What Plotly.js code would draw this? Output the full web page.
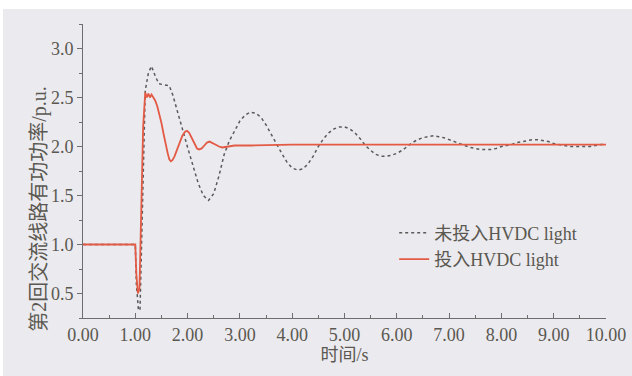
<!DOCTYPE html>
<html>
<head>
<meta charset="utf-8">
<script src="https://cdn.plot.ly/plotly-3.0.1.min.js"></script>
<style>
html,body{margin:0;padding:0;background:#ffffff;}
#chart{position:absolute;left:3px;top:9px;width:629px;height:367px;}
</style>
</head>
<body>
<div id="chart"></div>
<script>
// 未投入HVDC light (dashed)
const tNoHvdc = [0,1.0,1.02,1.06,1.09,1.12,1.15,1.19,1.25,1.31,1.38,1.45,1.55,1.65,1.72,1.80,1.90,2.00,2.10,2.20,2.30,2.40,2.50,2.60,2.70,2.80,2.90,3.00,3.10,3.20,3.30,3.40,3.50,3.60,3.70,3.80,3.90,4.00,4.10,4.20,4.30,4.40,4.50,4.60,4.70,4.80,4.90,5.00,5.10,5.20,5.30,5.40,5.50,5.60,5.70,5.80,5.90,6.00,6.10,6.20,6.30,6.40,6.50,6.60,6.70,6.80,6.90,7.00,7.10,7.20,7.30,7.40,7.50,7.60,7.70,7.80,7.90,8.00,8.10,8.20,8.30,8.40,8.50,8.60,8.70,8.80,8.90,9.00,9.10,9.20,9.30,9.40,9.50,9.60,9.70,9.80,9.90,10.00];
const vNoHvdc = [1.0,1.0,0.6,0.33,0.33,1.0,1.8,2.57,2.75,2.82,2.72,2.64,2.63,2.62,2.52,2.38,2.18,1.99,1.80,1.63,1.50,1.45,1.52,1.70,1.92,2.06,2.16,2.26,2.32,2.35,2.34,2.30,2.22,2.12,2.02,1.93,1.84,1.78,1.76,1.77,1.82,1.90,2.00,2.08,2.14,2.18,2.20,2.20,2.18,2.14,2.08,2.01,1.96,1.92,1.90,1.90,1.91,1.93,1.96,2.00,2.04,2.07,2.09,2.10,2.11,2.10,2.09,2.07,2.05,2.03,2.01,1.99,1.98,1.97,1.97,1.97,1.98,2.00,2.01,2.02,2.04,2.05,2.06,2.07,2.07,2.06,2.05,2.03,2.02,2.01,2.00,2.00,2.00,2.00,2.00,2.01,2.02,2.02];
// 投入HVDC light (solid red)
const tHvdc = [0,1.0,1.02,1.05,1.08,1.11,1.15,1.19,1.22,1.25,1.28,1.31,1.34,1.38,1.42,1.46,1.50,1.54,1.58,1.62,1.65,1.68,1.71,1.75,1.80,1.85,1.90,1.95,1.99,2.03,2.08,2.13,2.18,2.22,2.27,2.32,2.37,2.42,2.47,2.53,2.60,2.66,2.72,2.80,2.90,3.20,4.00,5.00,7.00,10.00];
const vHvdc = [1.0,1.0,0.7,0.5,0.55,1.3,2.2,2.55,2.50,2.54,2.50,2.53,2.50,2.47,2.41,2.33,2.24,2.13,2.02,1.93,1.87,1.85,1.86,1.90,1.97,2.05,2.11,2.15,2.16,2.14,2.09,2.03,1.98,1.97,1.98,2.01,2.04,2.05,2.04,2.02,2.00,1.99,1.995,2.005,2.01,2.01,2.02,2.02,2.02,2.02];

const xTickVals = [0,1,2,3,4,5,6,7,8,9,10];
const yTickVals = [0.5,1.0,1.5,2.0,2.5,3.0];
const seriesNames = ['未投入HVDC light','投入HVDC light'];
const xTitle = '时间/s';
const yTitle = '第2回交流线路有功功率/p.u.';

const FONT = '"Liberation Serif", "Noto Sans CJK SC"';
const TXT = '#5a5850';

const traces = [
  {x: tNoHvdc, y: vNoHvdc, name: seriesNames[0], mode: 'lines',
   line: {color: '#5a5a5a', width: 1.5, dash: '3px,3px', shape: 'linear'}},
  {x: tHvdc, y: vHvdc, name: seriesNames[1], mode: 'lines',
   line: {color: '#e35a45', width: 1.8, shape: 'linear'}}
];

const layout = {
  width: 629, height: 367,
  margin: {l: 80, r: 26, t: 15, b: 58},
  paper_bgcolor: '#ebeaef',
  plot_bgcolor: '#ebeaef',
  font: {family: FONT, color: TXT, size: 18},
  showlegend: true,
  legend: {x: 0.595, y: 0.352, xanchor: 'left', yanchor: 'top', bgcolor: 'rgba(0,0,0,0)',
           font: {family: FONT, size: 18, color: TXT}, tracegroupgap: 0},
  xaxis: {range: [0, 10], tickvals: xTickVals, tickformat: '.2f', showgrid: false, zeroline: false,
          showline: true, linecolor: '#6e6e6e', linewidth: 1, ticks: 'inside', ticklen: 5, tickcolor: '#6e6e6e',
          minor: {dtick: 0.5, tick0: 0, ticks: 'inside', ticklen: 3, tickcolor: '#6e6e6e'},
          tickfont: {family: FONT, size: 18, color: TXT},
          title: {text: xTitle, font: {family: FONT, size: 18, color: TXT}, standoff: 4}},
  yaxis: {range: [0.25, 3.25], tickvals: yTickVals, tickformat: '.1f', showgrid: false, zeroline: false,
          showline: true, linecolor: '#6e6e6e', linewidth: 1, ticks: 'outside', ticklen: 5, tickcolor: '#6e6e6e',
          minor: {dtick: 0.25, tick0: 0.25, ticks: 'outside', ticklen: 3, tickcolor: '#6e6e6e'},
          tickfont: {family: FONT, size: 18, color: TXT}},
  annotations: [{text: yTitle, xref: 'paper', yref: 'paper', x: -0.083, y: 0.37, xanchor: 'center', yanchor: 'middle',
                 textangle: -90, showarrow: false, font: {family: FONT, size: 20, color: TXT}}]
};

Plotly.newPlot('chart', traces, layout, {displayModeBar: false, staticPlot: true});
</script>
</body>
</html>
